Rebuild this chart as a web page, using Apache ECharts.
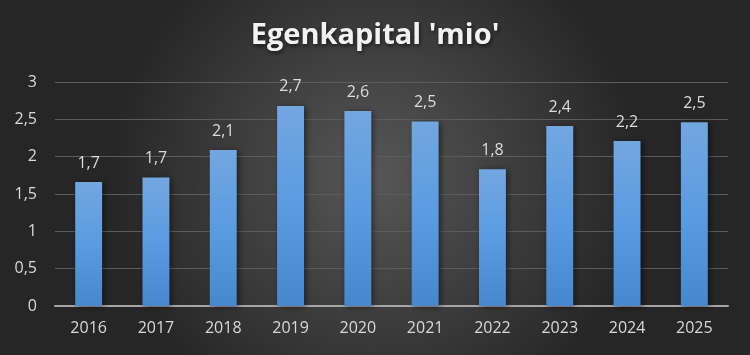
<!DOCTYPE html>
<html><head><meta charset="utf-8">
<script src="https://cdn.jsdelivr.net/npm/echarts@6/dist/echarts.min.js"></script>
<style>html,body{margin:0;padding:0;background:#2a2a2a}#c{width:750px;height:355px}</style>
</head><body><div id="c"></div>
<script>
const categories = ['2016','2017','2018','2019','2020','2021','2022','2023','2024','2025'];
const values = [1.66, 1.72, 2.09, 2.68, 2.61, 2.47, 1.83, 2.41, 2.21, 2.46];
const yTicks = [0, 0.5, 1, 1.5, 2, 2.5, 3];
const chart = echarts.init(document.getElementById('c'));
chart.setOption({
  backgroundColor: {type:'radial', x:0.5, y:0.5, r:0.75, colorStops:[{offset:0,color:'#575757'},{offset:1,color:'#262626'}]},
  title: {text:"Egenkapital 'mio'", left:'center', top:16,
    textStyle:{color:'#f2f2f2', fontFamily:'Open Sans', fontWeight:'bold', fontSize:29,
      textShadowColor:'rgba(0,0,0,0.6)', textShadowBlur:4, textShadowOffsetY:2, textShadowOffsetX:1}},
  grid: {left:55, right:22, top:82, bottom:49},
  xAxis: {type:'category', data:categories,
    axisLine:{lineStyle:{color:'#a6a6a6', width:2}}, axisTick:{show:false},
    axisLabel:{color:'#d9d9d9', fontSize:16, fontFamily:'Open Sans', margin:14}},
  yAxis: {type:'value', min:0, max:3, interval:0.5,
    axisLine:{show:false}, axisTick:{show:false},
    splitLine:{lineStyle:{color:'#5c5c5c', width:1}},
    axisLabel:{color:'#d9d9d9', fontSize:16, fontFamily:'Open Sans', margin:18,
      formatter: v => yTicks.includes(v) ? String(v).replace('.', ',') : ''}},
  series: [{type:'bar', data:values, barWidth:'40%',
    itemStyle:{color:{type:'linear',x:0,y:0,x2:0,y2:1,colorStops:[{offset:0,color:'#72a7e0'},{offset:0.5,color:'#5b9be0'},{offset:1,color:'#4788cc'}]},
      shadowColor:'rgba(0,0,0,0.5)', shadowBlur:6, shadowOffsetX:2, shadowOffsetY:1},
    label:{show:true, position:'top', distance:11, color:'#dcdcdc', fontSize:16, fontFamily:'Open Sans',
      formatter: p => p.value.toFixed(1).replace('.', ',')}}]
});
</script></body></html>
